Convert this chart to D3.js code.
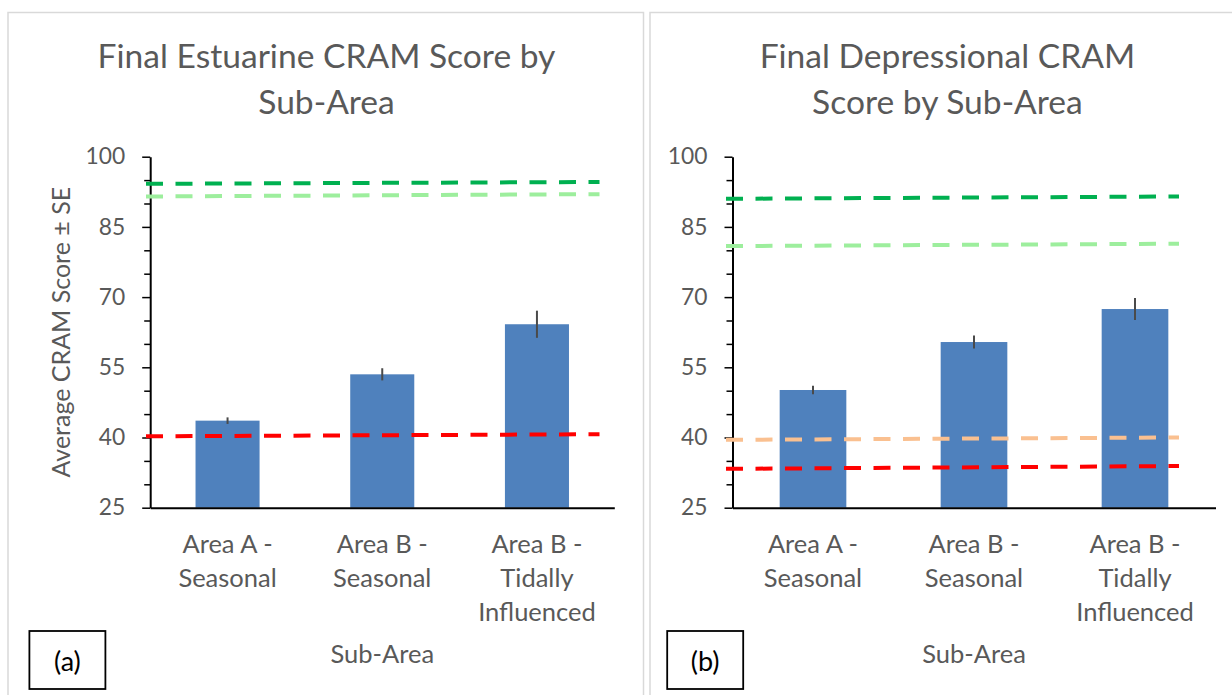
<!DOCTYPE html>
<html>
<head>
<meta charset="utf-8">
<script src="https://cdn.jsdelivr.net/npm/d3@7"></script>
<style>
  html, body { margin: 0; padding: 0; background: #ffffff; }
  svg { display: block; }
  text { font-family: Lato, "Open Sans", sans-serif; fill: #595959; }
</style>
</head>
<body>
<svg id="chart" width="1232" height="695"></svg>
<script>
// ---------------- DATA ----------------
const categories = ["Area A - Seasonal", "Area B - Seasonal", "Area B - Tidally Influenced"];
const categoryLines = [["Area A -", "Seasonal"], ["Area B -", "Seasonal"], ["Area B -", "Tidally", "Influenced"]];
const yMajorTicks = [25, 40, 55, 70, 85, 100];
const yMinorTicks = [30, 35, 45, 50, 60, 65, 75, 80, 90, 95];

const estuarineMeans = [43.6, 53.5, 64.2];
const estuarineSE = [0.7, 1.3, 2.9];
const depressionalMeans = [50.15, 60.4, 67.45];
const depressionalSE = [0.9, 1.4, 2.35];

// reference lines: [value at left end, value at right end]
const estuarineDarkGreen = [94.2, 94.6];
const estuarineLightGreen = [91.5, 92.0];
const estuarineRed = [40.25, 40.7];
const depressionalDarkGreen = [91.0, 91.5];
const depressionalLightGreen = [80.9, 81.4];
const depressionalOrange = [39.5, 40.0];
const depressionalRed = [33.3, 33.9];

const estuarineTitle = ["Final Estuarine CRAM Score by", "Sub-Area"];
const depressionalTitle = ["Final Depressional CRAM", "Score by Sub-Area"];
const yAxisTitle = "Average CRAM Score \u00b1 SE";
const xAxisTitle = "Sub-Area";

// ---------------- STYLE / LAYOUT ----------------
const lineColors = { darkGreen: "#00B050", lightGreen: "#9DEE9D", orange: "#FAC090", red: "#FF0000" };
const barColor = "#4F81BD";

const panels = [
  {
    frame: { x: 8, y: 12.5, w: 635.5, h: 720 },
    plot: { left: 150.2, right: 614.3, top: 156.7, bottom: 507.7 },
    titleX: 326.5, title: estuarineTitle,
    means: estuarineMeans, se: estuarineSE,
    lines: [
      { v: estuarineDarkGreen, c: lineColors.darkGreen },
      { v: estuarineLightGreen, c: lineColors.lightGreen },
      { v: estuarineRed, c: lineColors.red }
    ],
    lineX: [146, 599.5],
    box: { x: 29.4, y: 631, w: 76, h: 58, label: "(a)" },
    showYTitle: true
  },
  {
    frame: { x: 650, y: 12.5, w: 700, h: 720 },
    plot: { left: 732.5, right: 1215.5, top: 156.7, bottom: 507.7 },
    titleX: 947.4, title: depressionalTitle,
    means: depressionalMeans, se: depressionalSE,
    lines: [
      { v: depressionalDarkGreen, c: lineColors.darkGreen },
      { v: depressionalLightGreen, c: lineColors.lightGreen },
      { v: depressionalOrange, c: lineColors.orange },
      { v: depressionalRed, c: lineColors.red }
    ],
    lineX: [726, 1179],
    box: { x: 667.2, y: 631, w: 76, h: 58, label: "(b)" },
    showYTitle: false
  }
];

const svg = d3.select("#chart");

panels.forEach(p => {
  const g = svg.append("g");

  // chart frame
  g.append("rect")
    .attr("x", p.frame.x).attr("y", p.frame.y)
    .attr("width", p.frame.w).attr("height", p.frame.h)
    .attr("fill", "#ffffff").attr("stroke", "#d9d9d9").attr("stroke-width", 1.5);

  // title
  p.title.forEach((t, i) => {
    g.append("text")
      .attr("x", p.titleX).attr("y", 68.3 + i * 45.7)
      .attr("text-anchor", "middle")
      .attr("font-size", 33.6)
      .text(t);
  });

  const x = d3.scaleBand().domain(categories).range([p.plot.left, p.plot.right]).paddingInner(0.586).paddingOuter(0.293);
  const y = d3.scaleLinear().domain([25, 100]).range([p.plot.bottom, p.plot.top]);

  // bars
  g.append("g").selectAll("rect").data(p.means).join("rect")
    .attr("x", (d, i) => x(categories[i]))
    .attr("width", x.bandwidth())
    .attr("y", d => y(d))
    .attr("height", d => y(25) - y(d))
    .attr("fill", barColor);

  // error bars
  g.append("g").selectAll("line").data(p.means).join("line")
    .attr("x1", (d, i) => x(categories[i]) + x.bandwidth() / 2)
    .attr("x2", (d, i) => x(categories[i]) + x.bandwidth() / 2)
    .attr("y1", (d, i) => y(d + p.se[i]))
    .attr("y2", (d, i) => y(d - p.se[i]))
    .attr("stroke", "#4a4a4a").attr("stroke-width", 2);

  // y axis (major + minor)
  const yAxisMajor = d3.axisLeft(y).tickValues(yMajorTicks).tickSize(8).tickSizeOuter(0).tickPadding(17);
  const ya = g.append("g").attr("transform", `translate(${p.plot.left},0)`).call(yAxisMajor);
  ya.select(".domain").attr("stroke", "#000").attr("stroke-width", 2);
  ya.selectAll(".tick line").attr("stroke", "#000").attr("stroke-width", 1.5);
  ya.selectAll(".tick text").attr("font-size", 22.8).attr("fill", "#595959")
    .attr("font-family", "Lato, 'Open Sans', sans-serif");

  const yAxisMinor = d3.axisLeft(y).tickValues(yMinorTicks).tickSize(6).tickSizeOuter(0).tickFormat("");
  const ym = g.append("g").attr("transform", `translate(${p.plot.left},0)`).call(yAxisMinor);
  ym.select(".domain").remove();
  ym.selectAll(".tick line").attr("stroke", "#000").attr("stroke-width", 1.5);

  // x axis
  const xa = g.append("g").attr("transform", `translate(0,${p.plot.bottom})`)
    .call(d3.axisBottom(x).tickSize(0).tickSizeOuter(0).tickFormat(""));
  xa.select(".domain").attr("stroke", "#000").attr("stroke-width", 2);

  // category labels
  categoryLines.forEach((lines, i) => {
    const cx = x(categories[i]) + x.bandwidth() / 2;
    lines.forEach((t, j) => {
      g.append("text")
        .attr("x", cx).attr("y", 552.5 + j * 34)
        .attr("text-anchor", "middle")
        .attr("font-size", 25.5)
        .text(t);
    });
  });

  // x axis title
  g.append("text")
    .attr("x", (p.plot.left + p.plot.right) / 2).attr("y", 663.3)
    .attr("text-anchor", "middle").attr("font-size", 25.5)
    .text(xAxisTitle);

  // y axis title
  if (p.showYTitle) {
    g.append("text")
      .attr("transform", `translate(70.2,${(p.plot.top + p.plot.bottom) / 2}) rotate(-90)`)
      .attr("text-anchor", "middle").attr("font-size", 25)
      .text(yAxisTitle);
  }

  // reference dashed lines
  const lx = d3.scaleLinear().domain([0, 1]).range(p.lineX);
  const lineGen = d3.line().x((d, i) => lx(i)).y(d => y(d));
  p.lines.forEach(l => {
    g.append("path")
      .attr("d", lineGen(l.v))
      .attr("fill", "none")
      .attr("stroke", l.c).attr("stroke-width", 4)
      .attr("stroke-dasharray", "17,12.5");
  });

  // panel label box
  g.append("rect")
    .attr("x", p.box.x).attr("y", p.box.y).attr("width", p.box.w).attr("height", p.box.h)
    .attr("fill", "#ffffff").attr("stroke", "#000").attr("stroke-width", 1.8);
  g.append("text")
    .attr("x", p.box.x + p.box.w / 2).attr("y", 671)
    .attr("text-anchor", "middle").attr("font-size", 27)
    .style("fill", "#000")
    .text(p.box.label);
});
</script>
</body>
</html>
